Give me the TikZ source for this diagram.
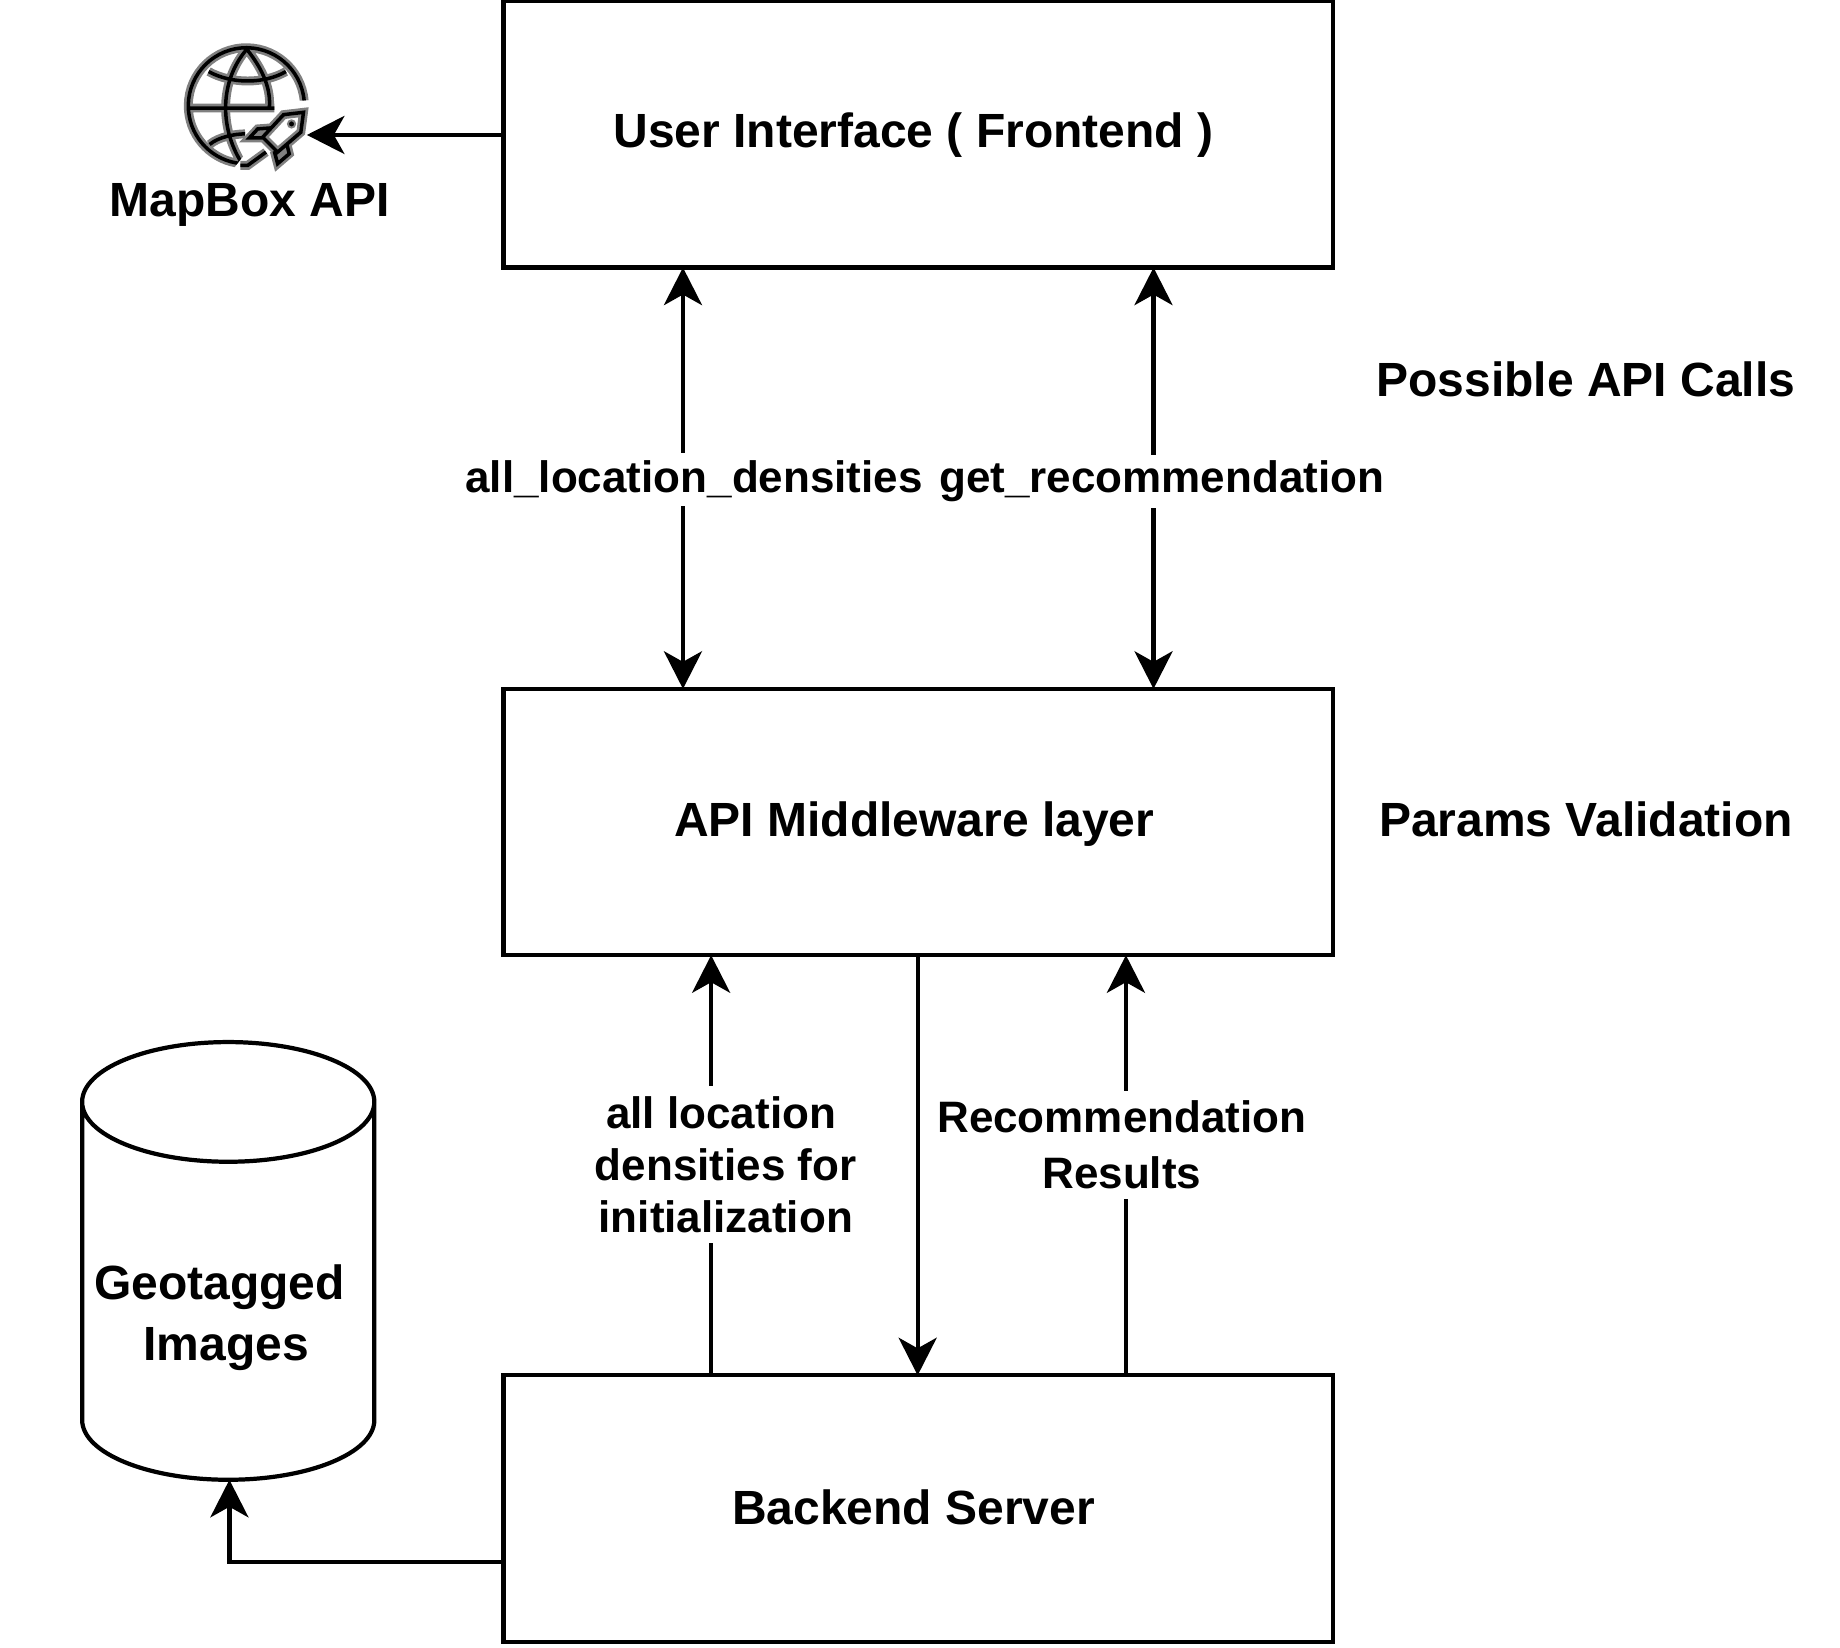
\documentclass[tikz,border=0pt]{standalone}
\usepackage{fontspec}
\setmainfont{Liberation Sans}
\usetikzlibrary{arrows.meta,shapes.geometric}
\tikzset{
  x=0.5pt,y=-0.5pt,
  box/.style={draw,line width=1.8pt,minimum width=353.5pt,minimum height=113.5pt,inner sep=0pt,outer sep=0pt},
  big/.style={font=\fontsize{20.45}{26}\selectfont\bfseries,inner sep=0pt,outer sep=0pt,align=center},
  lab/.style={font=\fontsize{18.75}{22.25}\selectfont\bfseries,fill=white,inner sep=0pt,outer sep=0pt,align=center},
  conn/.style={line width=1.8pt},
  tip/.style={-{Stealth[length=16pt,width=16.2pt,inset=4.5pt]}},
  twotip/.style={{Stealth[length=16pt,width=16.2pt,inset=4.5pt]}-{Stealth[length=16pt,width=16.2pt,inset=4.5pt]}},
  halo/.style={draw=black!50,line width=3.8pt},
  core/.style={draw=black,line width=1.5pt},
}
\def\globepath{
  (610,240) arc[start angle=-5,end angle=-265,radius=175]
  (262,262) -- (520,262)
  (437,85) .. controls (355,180) and (355,320) .. (420,425)
  (437,85) .. controls (490,150) and (510,210) .. (505,262)
  (322,152) .. controls (390,190) and (490,190) .. (555,152)
  (325,372) .. controls (350,350) and (400,340) .. (432,340)
}
\def\rocketpath{
  (608,275) -- (600,335) -- (530,395) -- (485,350) -- (548,282) -- cycle
  (510,322) -- (470,325) -- (445,352) -- (488,352)
  (558,372) -- (565,400) -- (530,430) -- (520,392)
  (418,435) -- (440,435) -- (495,395)
}
\begin{document}
\begin{tikzpicture}
\useasboundingbox (0,0) rectangle (1568,1404.3);
% boxes
\node[box] (ui) at (782.5,114.5) {};
\node[box] (mw) at (782.5,700.5) {};
\node[box] (be) at (782.5,1285.5) {};
\node[big] (uit) at (778.5,115.5) {User Interface ( Frontend )};
\node[big] (mwt) at (779,702) {API Middleware layer};
\node[big] (bet) at (778.5,1284.5) {Backend Server};
\node[big] (pac) at (1351.5,323) {Possible API Calls};
\node[big] (pv) at (1351.5,698) {Params Validation};
\node[big] (mb) at (213,174.5) {MapBox API};
% cylinder
\coordinate (cb) at (195.5,1261);
\draw[line width=1.8pt] (70,939) arc[x radius=124.5,y radius=51,start angle=180,end angle=540]
  (70,939) -- (70,1210) arc[x radius=124.5,y radius=51,start angle=180,end angle=0] -- (319,939);
\node[big] (geo) at (187,1122.5) {Geotagged\\\hspace*{5.7pt}Images};
% icon
\node[inner sep=0pt,outer sep=0pt,minimum size=1pt] (icon) at (260.5,115) {};
\begin{scope}[shift={(86.8,18)},x=0.1413pt,y=-0.1413pt]
  \draw[halo] \globepath;
  \draw[core] \globepath;
  \fill[white] (556,240) -- (640,240) -- (640,460) -- (400,460) -- (400,442) -- cycle;
  \draw[halo] \rocketpath;
  \draw[core] \rocketpath;
  \fill[black,draw=black!50,line width=0.8pt] (572,310) circle[radius=11];
\end{scope}
% connectors
\coordinate (a1) at (582,0);
\coordinate (a2) at (983,0);
\coordinate (a3) at (606,0);
\coordinate (a4) at (782,0);
\coordinate (a5) at (959.5,0);
\coordinate (a6) at (195.5,0);
\coordinate (a7) at (0,1331);
\draw[conn,tip] (ui.west |- icon) -- (icon);
\draw[conn,twotip] (a1 |- ui.south) -- (a1 |- mw.north);
\draw[conn,twotip] (a2 |- ui.south) -- (a2 |- mw.north);
\draw[conn,tip] (a3 |- be.north) -- (a3 |- mw.south);
\draw[conn,tip] (a4 |- mw.south) -- (a4 |- be.north);
\draw[conn,tip] (a5 |- be.north) -- (a5 |- mw.south);
\draw[conn,tip] (be.west |- a7) -- (a6 |- a7) -- (a6 |- cb);
% labels
\node[lab,minimum height=22.5pt] (l1) at (591.5,408.5) {all\_location\_densities};
\node[lab,minimum height=22.5pt] (l2) at (990,410) {get\_recommendation};
\node[lab,minimum height=67pt] (l3) at (618.5,992.5) {all location\hspace*{4pt}\\densities for\\initialization};
\node[lab,minimum height=46pt,font=\fontsize{18.75}{24}\selectfont\bfseries] (l4) at (956,975.5) {Recommendation\\Results};
\end{tikzpicture}
\end{document}
